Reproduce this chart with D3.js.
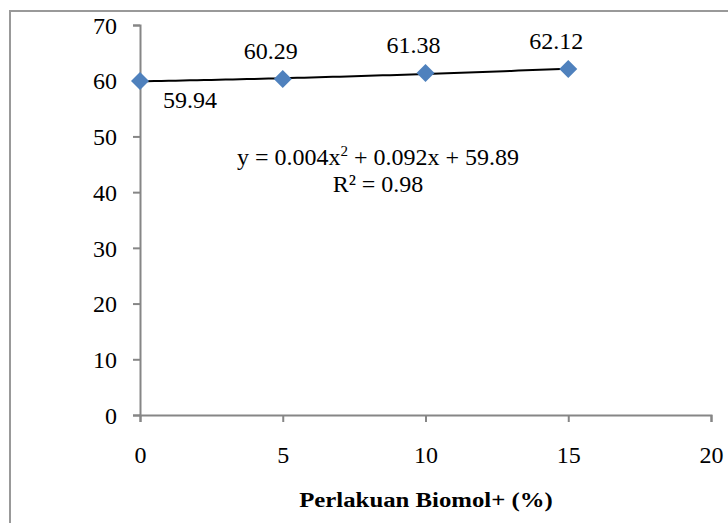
<!DOCTYPE html>
<html>
<head>
<meta charset="utf-8">
<script src="https://cdn.jsdelivr.net/npm/d3@7"></script>
<style>
  body { margin: 0; background: #fff; }
  svg { display: block; }
  text { font-family: "Liberation Serif", "Times New Roman", serif; fill: #000; }
</style>
</head>
<body>
<svg id="chart" width="728" height="523"></svg>
<script>
// data
let doses = [0, 5, 10, 15]
let yields = [59.94, 60.29, 61.38, 62.12]
let xTicks = [0, 5, 10, 15, 20]
let yTicks = [0, 10, 20, 30, 40, 50, 60, 70]
// trendline y = a*x^2 + b*x + c, as printed on the chart
let trendCoef = [0.004, 0.092, 59.89]
let eqLines = ['y = 0.004x', 'R² = 0.98']

const svg = d3.select('#chart')

// outer chart border (runs off the right and bottom edge)
svg.append('rect')
  .attr('x', 10).attr('y', 11)
  .attr('width', 740).attr('height', 540)
  .style('fill', 'none')
  .style('stroke', '#999')
  .style('stroke-width', 2)

const x = d3.scaleLinear().domain([0, 20]).range([140, 711])
const y = d3.scaleLinear().domain([0, 70]).range([415, 25])

// y axis
const yAxis = svg.append('g')
  .attr('transform', `translate(${x(0)},0)`)
  .call(d3.axisLeft(y).tickValues(yTicks).tickSize(7).tickPadding(16).tickFormat(d3.format('d')))
// x axis
const xAxis = svg.append('g')
  .attr('transform', `translate(0,${y(0)})`)
  .call(d3.axisBottom(x).tickValues(xTicks).tickSize(7).tickFormat(d3.format('d')))

;[xAxis, yAxis].forEach(g => {
  g.select('.domain').style('stroke', '#868686').style('stroke-width', 2)
  g.selectAll('.tick line').style('stroke', '#868686').style('stroke-width', 2)
  g.selectAll('.tick text')
    .style('font-family', '"Liberation Serif", serif')
    .style('font-size', '24px')
    .style('fill', '#000')
})
yAxis.selectAll('.tick text').attr('dy', '0.34em')
xAxis.selectAll('.tick text').attr('y', 48).attr('dy', 0)

// trendline
const trendPts = d3.range(0, 15.01, 0.25).map(d => [d, trendCoef[0] * d * d + trendCoef[1] * d + trendCoef[2]])
svg.append('path')
  .datum(trendPts)
  .attr('d', d3.line().x(d => x(d[0])).y(d => y(d[1])))
  .style('fill', 'none')
  .style('stroke', '#000')
  .style('stroke-width', 2)

// diamond markers
svg.selectAll('path.pt')
  .data(doses)
  .join('path')
  .attr('class', 'pt')
  .attr('d', 'M0,-9L9,0L0,9L-9,0Z')
  .attr('transform', (d, i) => `translate(${x(d)},${y(yields[i])})`)
  .style('fill', '#4f81bd')

// data labels
svg.selectAll('text.lbl')
  .data(doses)
  .join('text')
  .attr('class', 'lbl')
  .attr('x', (d, i) => i === 0 ? x(d) + 50 : x(d) - 12)
  .attr('y', (d, i) => i === 0 ? y(yields[i]) + 27 : y(yields[i]) - 20)
  .attr('text-anchor', 'middle')
  .style('font-size', '24px')
  .text((d, i) => yields[i].toFixed(2))

// trendline equation
const eq = svg.append('text')
  .attr('x', 378).attr('y', 165)
  .attr('text-anchor', 'middle')
  .style('font-size', '24px')
eq.append('tspan').text(eqLines[0])
eq.append('tspan').attr('dy', -9).style('font-size', '15px').text('2')
eq.append('tspan').attr('dy', 9).text(' + 0.092x + 59.89')

svg.append('text')
  .attr('x', 378).attr('y', 192)
  .attr('text-anchor', 'middle')
  .style('font-size', '24px')
  .text(eqLines[1])

// x axis title, slightly wide like the original
svg.append('g')
  .attr('transform', 'translate(426,507) scale(1.18,1)')
  .append('text')
  .attr('text-anchor', 'middle')
  .style('font-size', '21px')
  .style('font-weight', 'bold')
  .text('Perlakuan Biomol+ (%)')
</script>
</body>
</html>
